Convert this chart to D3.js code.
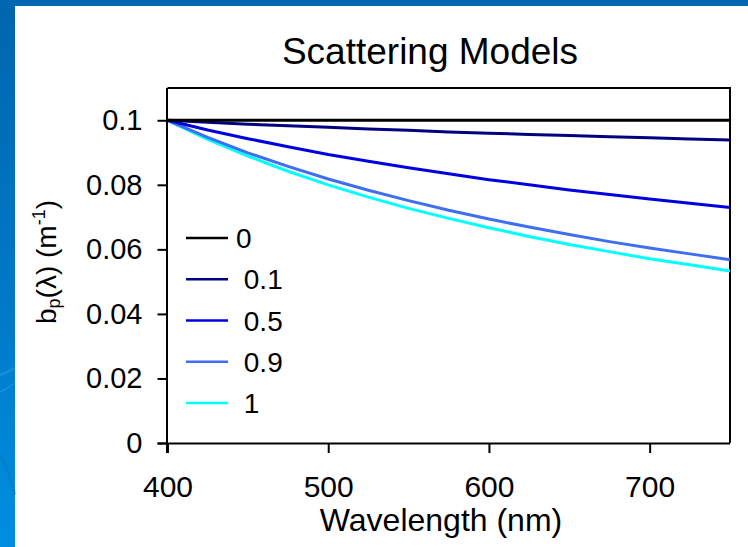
<!DOCTYPE html>
<html>
<head>
<meta charset="utf-8">
<script src="https://cdn.jsdelivr.net/npm/d3@7"></script>
<style>
  html, body { margin: 0; padding: 0; background: #ffffff; }
  svg { display: block; font-family: "Liberation Sans", Arial, sans-serif; }
  text { white-space: pre; }
</style>
</head>
<body>
<svg id="chart" width="748" height="547"></svg>
<script>
// ---- data ----
const wavelengths = [400, 425, 450, 475, 500, 525, 550, 575, 600, 625, 650, 675, 700, 725, 750];
const seriesLabels = ["0", " 0.1", " 0.5", " 0.9", " 1"];
const values0  = [0.1, 0.1, 0.1, 0.1, 0.1, 0.1, 0.1, 0.1, 0.1, 0.1, 0.1, 0.1, 0.1, 0.1, 0.1];
const values01 = [0.1, 0.0994, 0.0988, 0.0983, 0.0978, 0.0973, 0.0969, 0.0964, 0.0960, 0.0956, 0.0953, 0.0949, 0.0946, 0.0942, 0.0939];
const values05 = [0.1, 0.0970, 0.0943, 0.0918, 0.0894, 0.0873, 0.0853, 0.0834, 0.0816, 0.0800, 0.0784, 0.0770, 0.0756, 0.0743, 0.0730];
const values09 = [0.1, 0.0947, 0.0899, 0.0857, 0.0818, 0.0783, 0.0751, 0.0721, 0.0694, 0.0669, 0.0646, 0.0624, 0.0604, 0.0586, 0.0568];
const values1  = [0.1, 0.0941, 0.0889, 0.0842, 0.0800, 0.0762, 0.0727, 0.0696, 0.0667, 0.0640, 0.0615, 0.0593, 0.0571, 0.0552, 0.0533];
const seriesColors = ["#000000", "#000080", "#0000e0", "#3f6ff0", "#00ffff"];
const xTicks = [400, 500, 600, 700];
const yTicks = [0, 0.02, 0.04, 0.06, 0.08, 0.1];
const titleText = "Scattering Models";
const xTitle = "Wavelength (nm)";

const allValues = [values0, values01, values05, values09, values1];

(function () {
const svg = d3.select("#chart");
const W = 748, H = 547;

// ---- slide background frame ----
const defs = svg.append("defs");
const grad = defs.append("linearGradient").attr("id", "sideGrad")
  .attr("x1", 0).attr("y1", 0).attr("x2", 0).attr("y2", 1);
grad.append("stop").attr("offset", "0%").attr("stop-color", "#0066ae");
grad.append("stop").attr("offset", "55%").attr("stop-color", "#0079c8");
grad.append("stop").attr("offset", "100%").attr("stop-color", "#008fe0");

svg.append("rect").attr("x", 0).attr("y", 0).attr("width", W).attr("height", H).attr("fill", "#ffffff");
svg.append("rect").attr("x", 0).attr("y", 0).attr("width", 15).attr("height", H).attr("fill", "url(#sideGrad)");
svg.append("rect").attr("x", 0).attr("y", 0).attr("width", W).attr("height", 6).attr("fill", "#0068b0");
const sw = svg.append("g").attr("fill", "none").attr("stroke", "#3aa6ee").attr("stroke-opacity", 0.35);
sw.append("path").attr("d", "M0,375 Q8,372 15,368").attr("stroke-width", 3);
sw.append("path").attr("d", "M0,392 Q8,388 15,383").attr("stroke-width", 2);
sw.append("path").attr("d", "M0,455 Q9,470 15,495").attr("stroke-width", 3).attr("stroke", "#0a6fb8");

// ---- plot area ----
const pLeft = 167.5, pRight = 730, pTop = 88, pBottom = 443;
const x = d3.scaleLinear().domain([400, 750]).range([pLeft, pRight]);
const y = d3.scaleLinear().domain([0, 0.11]).range([pBottom, pTop]);

svg.append("path")
  .attr("d", `M${pLeft},${pTop}H${pRight}V${pBottom}`)
  .attr("fill", "none").attr("stroke", "#000").attr("stroke-width", 2);

const line = d3.line().x((d, i) => x(wavelengths[i])).y(d => y(d));
const order = [4, 3, 2, 1, 0];
svg.append("g").selectAll("path").data(order).join("path")
  .attr("d", k => line(allValues[k]))
  .attr("fill", "none")
  .attr("stroke", k => seriesColors[k])
  .attr("stroke-width", 3)
  .attr("stroke-linejoin", "round");

const xAxis = d3.axisBottom(x).tickValues(xTicks).tickFormat(d3.format("d")).tickSize(10).tickPadding(23);
const gx = svg.append("g").attr("transform", `translate(0,${pBottom})`).call(xAxis);
gx.select(".domain").attr("d", `M${pLeft - 10},0.5H${pRight}`).attr("stroke-width", 2);
gx.selectAll(".tick line").attr("stroke-width", 2);
gx.selectAll(".tick text").attr("font-size", 30).attr("fill", "#000")
  .attr("font-family", "'Liberation Sans', Arial, sans-serif");

const yAxis = d3.axisLeft(y).tickValues(yTicks).tickFormat(d => d === 0 ? "0" : d3.format(".2~f")(d)).tickSize(10).tickPadding(15);
const gy = svg.append("g").attr("transform", `translate(${pLeft},0)`).call(yAxis);
gy.select(".domain").attr("d", `M-0.5,${pTop}V${pBottom + 10}`).attr("stroke-width", 2);
gy.selectAll(".tick line").attr("stroke-width", 2);
gy.selectAll(".tick text").attr("font-size", 29).attr("fill", "#000")
  .attr("font-family", "'Liberation Sans', Arial, sans-serif");

svg.append("text").attr("x", 430).attr("y", 64).attr("text-anchor", "middle")
  .attr("font-size", 37).attr("fill", "#000").text(titleText);

svg.append("text").attr("x", 441).attr("y", 531).attr("text-anchor", "middle")
  .attr("font-size", 32).attr("fill", "#000").text(xTitle);

const yt = svg.append("text").attr("transform", "translate(56,262) rotate(-90)")
  .attr("text-anchor", "middle").attr("font-size", 28).attr("fill", "#000");
yt.append("tspan").text("b");
yt.append("tspan").attr("font-size", 18).attr("dy", 4).text("p");
yt.append("tspan").attr("dy", -4).text("(λ) (m");
yt.append("tspan").attr("font-size", 18).attr("dy", -11).text("-1");
yt.append("tspan").attr("dy", 11).text(")");

const lg = svg.append("g");
const legendY = d3.scalePoint().domain(d3.range(seriesLabels.length)).range([238, 403]);
const items = lg.selectAll("g").data(d3.range(seriesLabels.length)).join("g")
  .attr("transform", i => `translate(186,${legendY(i)})`);
items.append("line").attr("x1", 0).attr("x2", 42).attr("y1", 0).attr("y2", 0)
  .attr("stroke", i => seriesColors[i]).attr("stroke-width", 2.5);
items.append("text").attr("x", 50).attr("dy", "0.36em").attr("font-size", 28).attr("fill", "#000")
  .text(i => seriesLabels[i]);
})();
</script>
</body>
</html>
